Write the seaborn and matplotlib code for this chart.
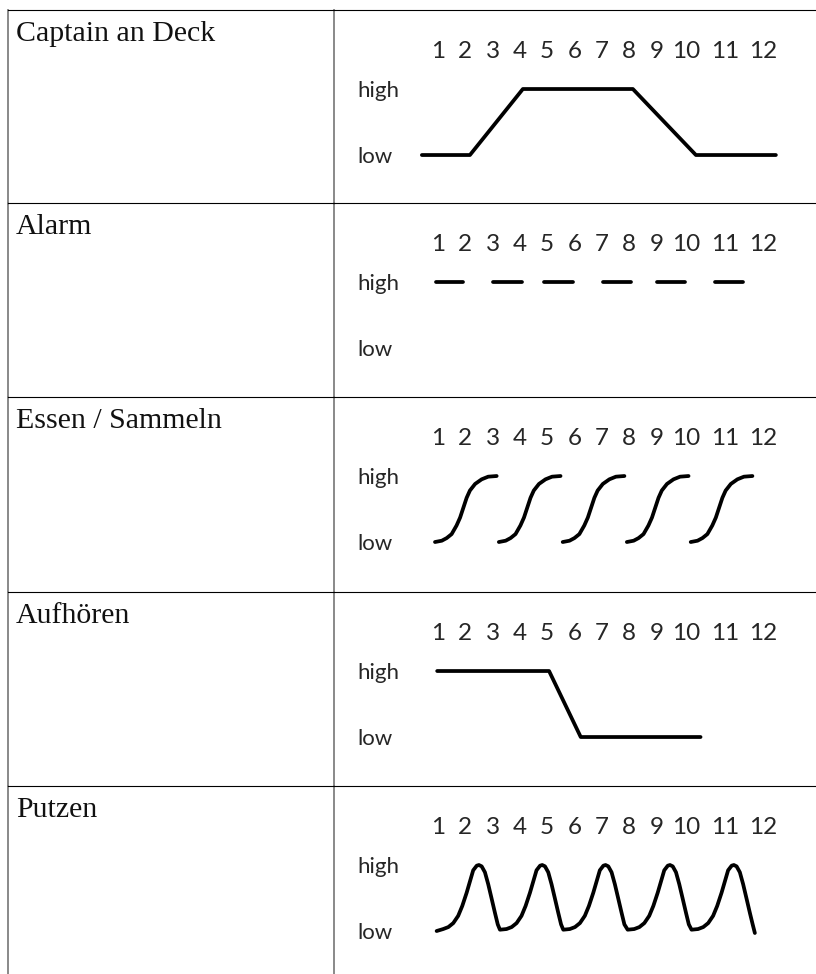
import pandas as pd
import seaborn as sns
import matplotlib.pyplot as plt

# row names (left column) and the header of every diagram
rows = ["Captain an Deck", "Alarm", "Essen / Sammeln", "Aufhören", "Putzen"]
hours = ["1", "2", "3", "4", "5", "6", "7", "8", "9", "10", "11", "12"]
hour_pos = [1, 2, 3, 4, 5, 6, 7, 8, 9, 10.11, 11.52, 12.92]
levels = ["low", "high"]

# Captain an Deck
captain_x = [0.41, 2.17, 4.11, 8.14, 10.45, 13.38]
captain_y = [0, 0, 1, 1, 0, 0]

# Alarm: short dashes on "high"
alarm_start = [0.93, 3.01, 4.88, 7.04, 9.02, 11.15]
alarm_end = [1.92, 4.08, 5.95, 8.07, 10.05, 12.17]

# Essen / Sammeln: five S-curves
essen_x = [
    [0.89, 1.14, 1.32, 1.50, 1.68, 1.81, 1.93, 2.05, 2.17, 2.36, 2.60, 2.84, 3.15],
    [3.23, 3.48, 3.66, 3.84, 4.02, 4.15, 4.27, 4.39, 4.51, 4.70, 4.94, 5.18, 5.49],
    [5.57, 5.82, 6.00, 6.18, 6.36, 6.49, 6.61, 6.73, 6.85, 7.04, 7.28, 7.52, 7.83],
    [7.92, 8.17, 8.35, 8.53, 8.71, 8.84, 8.96, 9.08, 9.20, 9.39, 9.63, 9.87, 10.18],
    [10.26, 10.51, 10.69, 10.87, 11.05, 11.18, 11.30, 11.42, 11.54, 11.73, 11.97, 12.21, 12.52],
]
essen_y = [0, 0.02, 0.06, 0.12, 0.25, 0.37, 0.52, 0.67, 0.78, 0.88, 0.95, 0.99, 1.0]

# Aufhören
stop_x = [0.97, 5.07, 6.23, 10.62]
stop_y = [1, 1, 0, 0]

# Putzen: five peaks
putzen_x = [
    0.95, 1.19, 1.38, 1.56, 1.74, 1.89, 2.05, 2.17, 2.29, 2.42, 2.50, 2.60, 2.72, 2.84, 2.96, 3.09, 3.19,
    3.27, 3.51, 3.70, 3.88, 4.06, 4.21, 4.37, 4.49, 4.61, 4.74, 4.82, 4.92, 5.04, 5.16, 5.28, 5.41, 5.51,
    5.59, 5.83, 6.02, 6.20, 6.38, 6.53, 6.69, 6.81, 6.93, 7.06, 7.14, 7.24, 7.36, 7.48, 7.60, 7.73, 7.83,
    7.95, 8.19, 8.38, 8.56, 8.74, 8.89, 9.05, 9.17, 9.29, 9.42, 9.50, 9.60, 9.72, 9.84, 9.96, 10.09, 10.19,
    10.29, 10.53, 10.72, 10.90, 11.08, 11.23, 11.39, 11.51, 11.63, 11.76, 11.84, 11.94, 12.06, 12.18, 12.30, 12.43, 12.53,
    12.61,
]
putzen_y = [
    0.0, 0.03, 0.06, 0.12, 0.23, 0.38, 0.58, 0.75, 0.92, 0.99, 1.0, 0.98, 0.89, 0.71, 0.50, 0.27, 0.10,
    0.02, 0.03, 0.06, 0.12, 0.23, 0.38, 0.58, 0.75, 0.92, 0.99, 1.0, 0.98, 0.89, 0.71, 0.50, 0.27, 0.10,
    0.02, 0.03, 0.06, 0.12, 0.23, 0.38, 0.58, 0.75, 0.92, 0.99, 1.0, 0.98, 0.89, 0.71, 0.50, 0.27, 0.10,
    0.02, 0.03, 0.06, 0.12, 0.23, 0.38, 0.58, 0.75, 0.92, 0.99, 1.0, 0.98, 0.89, 0.71, 0.50, 0.27, 0.10,
    0.02, 0.03, 0.06, 0.12, 0.23, 0.38, 0.58, 0.75, 0.92, 0.99, 1.0, 0.98, 0.89, 0.71, 0.50, 0.27, 0.10,
    -0.03,
]


def frame(xs, ys, seg=0):
    return pd.DataFrame({"x": xs, "y": ys, "seg": seg})


captain_df = frame(captain_x, captain_y)
alarm_df = pd.concat([frame([a, b], [1, 1], i)
                      for i, (a, b) in enumerate(zip(alarm_start, alarm_end))])
essen_df = pd.concat([frame(xs, essen_y, i) for i, xs in enumerate(essen_x)])
stop_df = frame(stop_x, stop_y)
putzen_df = frame(putzen_x, putzen_y)
series = [captain_df, alarm_df, essen_df, stop_df, putzen_df]

sns.set_style("white")
plt.rcParams["font.family"] = ["Lato", "DejaVu Sans"]

W, H = 816, 974
fig = plt.figure(figsize=(W / 100, H / 100), dpi=100, facecolor="white")

row_top = [10, 203, 397, 592, 786]
row_h = 194
left_px, mid_px = 8, 334
grid_gray = "#808080"

for i, name in enumerate(rows):
    bottom = 1 - (row_top[i] + row_h) / H

    # left cell: the name
    ax_l = fig.add_axes([left_px / W, bottom, (mid_px - left_px) / W, row_h / H])
    ax_l.patch.set_alpha(0)
    ax_l.set_xticks([])
    ax_l.set_yticks([])
    for side, sp in ax_l.spines.items():
        sp.set_visible(side != "bottom")
        sp.set_color("black" if side == "top" else grid_gray)
        sp.set_linewidth(0.8 if side == "top" else 1.3)
    ax_l.text(8 / 326, 1 - 31 / row_h, name, transform=ax_l.transAxes,
              family=["Liberation Serif", "DejaVu Serif"], fontsize=21.5,
              ha="left", va="baseline", color="#111111")

    # right cell: the diagram
    ax = fig.add_axes([mid_px / W, bottom, (W - mid_px) / W, row_h / H])
    ax.patch.set_alpha(0)
    sns.lineplot(data=series[i], x="x", y="y", units="seg", estimator=None,
                 sort=False, color="black", linewidth=2.7, ax=ax,
                 solid_capstyle="round", solid_joinstyle="round")
    ax.set(xlabel="", ylabel="")
    ax.set_xlim(-2.81, 14.85)
    ax.set_ylim(-0.742, 2.197)

    ax.xaxis.tick_top()
    ax.set_xticks(hour_pos, hours)
    ax.tick_params(axis="x", length=0, pad=-30.2, labelsize=17.5)
    for lbl in ax.get_xticklabels():
        lbl.set_va("center")

    ax.set_yticks([0, 1], levels)
    ax.tick_params(axis="y", length=0, pad=-16.6, labelsize=16)
    for lbl in ax.get_yticklabels():
        lbl.set_ha("left")
        lbl.set_va("center_baseline")

    for side, sp in ax.spines.items():
        sp.set_visible(side == "top")
        sp.set_color("black")
        sp.set_linewidth(0.8)

fig.savefig("out.png", dpi=100, facecolor="white")
